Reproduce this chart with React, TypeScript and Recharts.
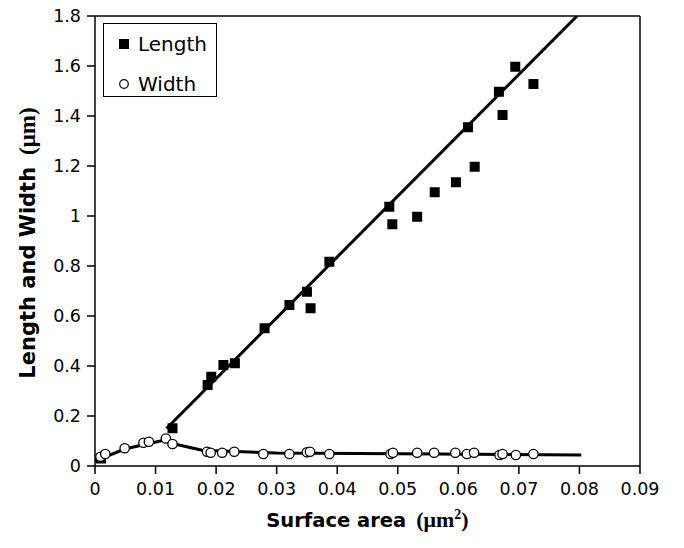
import React from 'react';
import { ScatterChart, Scatter, XAxis, YAxis, ReferenceLine, Legend } from 'recharts';

// Length measurements (filled squares)
const lengthX = [0.0010, 0.0128, 0.0186, 0.0192, 0.0212, 0.0231, 0.0280, 0.0321, 0.0350, 0.0356, 0.0387, 0.0486, 0.0491, 0.0532, 0.0561, 0.0596, 0.0627, 0.0616, 0.0673, 0.0667, 0.0694, 0.0724];
const lengthY = [0.030, 0.151, 0.324, 0.357, 0.404, 0.411, 0.551, 0.644, 0.697, 0.631, 0.817, 1.037, 0.967, 0.997, 1.095, 1.135, 1.197, 1.355, 1.404, 1.497, 1.597, 1.528];

// Width measurements (open circles)
const widthX = [0.0009, 0.0017, 0.0049, 0.0080, 0.0089, 0.0117, 0.0128, 0.0185, 0.0191, 0.0210, 0.0230, 0.0278, 0.0321, 0.0350, 0.0355, 0.0387, 0.0488, 0.0492, 0.0532, 0.0560, 0.0595, 0.0614, 0.0626, 0.0668, 0.0673, 0.0695, 0.0724];
const widthY = [0.037, 0.048, 0.071, 0.093, 0.097, 0.110, 0.088, 0.057, 0.053, 0.053, 0.057, 0.048, 0.048, 0.055, 0.057, 0.048, 0.048, 0.053, 0.053, 0.053, 0.053, 0.048, 0.053, 0.044, 0.048, 0.044, 0.048];

// Fitted trend lines
const lengthFitX = [0.0118, 0.0796];
const lengthFitY = [0.150, 1.800];
const widthFitX = [0.0, 0.0049, 0.0117, 0.0135, 0.0177, 0.0300, 0.0500, 0.0803];
const widthFitY = [0.020, 0.068, 0.105, 0.086, 0.063, 0.052, 0.049, 0.044];

const xTicks = [0, 0.01, 0.02, 0.03, 0.04, 0.05, 0.06, 0.07, 0.08, 0.09];
const yTicks = [0, 0.2, 0.4, 0.6, 0.8, 1, 1.2, 1.4, 1.6, 1.8];

const zip = (xs: number[], ys: number[]) => xs.map((x, i) => ({ x, y: ys[i] }));
const lengthData = zip(lengthX, lengthY);
const widthData = zip(widthX, widthY);
const lengthFit = zip(lengthFitX, lengthFitY);
const widthFit = zip(widthFitX, widthFitY);

const SANS = 'DejaVu Sans';

const SquareShape = (p: any) => (
  <rect x={p.cx - 5} y={p.cy - 5} width={10} height={10} fill="#000" />
);
const CircleShape = (p: any) => (
  <circle cx={p.cx} cy={p.cy} r={4.7} fill="#fff" stroke="#000" strokeWidth={1.3} />
);
const NoShape = () => <g />;

const XTitle = (props: any) => {
  const vb = props.viewBox || { x: 95, y: 466, width: 545, height: 82 };
  const cx = vb.x + vb.width / 2;
  return (
    <text x={cx} y={vb.y + 61} textAnchor="middle" fill="#000">
      <tspan fontFamily={SANS} fontWeight="bold" fontSize={19.5}>Surface area</tspan>
      <tspan dx={10} fontFamily="Liberation Serif" fontWeight="bold" fontSize={22}>(μm</tspan>
      <tspan dy={-8} fontFamily="Liberation Serif" fontWeight="bold" fontSize={14}>2</tspan>
      <tspan dy={8} fontFamily="Liberation Serif" fontWeight="bold" fontSize={22}>)</tspan>
    </text>
  );
};

const YTitle = (props: any) => {
  const vb = props.viewBox || { x: 0, y: 16, width: 95, height: 450 };
  const cy = vb.y + vb.height / 2 + 2;
  const cx = 35;
  return (
    <text x={cx} y={cy} textAnchor="middle" fill="#000" transform={`rotate(-90 ${cx} ${cy})`}>
      <tspan fontFamily={SANS} fontWeight="bold" fontSize={21}>Length and Width</tspan>
      <tspan dx={12} fontFamily="Liberation Serif" fontWeight="bold" fontSize={23}>(μm)</tspan>
    </text>
  );
};

const LegendBox = () => (
  <div
    style={{
      width: 114,
      height: 74,
      boxSizing: 'border-box',
      border: '1.5px solid #000',
      background: '#fff',
      fontFamily: SANS,
      fontSize: 20,
      color: '#000',
      position: 'relative',
    }}
  >
    <div style={{ position: 'absolute', left: 14, top: 8, display: 'flex', alignItems: 'center', height: 24 }}>
      <svg width={12} height={12} style={{ marginRight: 8 }}>
        <rect x={1} y={1} width={10} height={10} fill="#000" />
      </svg>
      <span>Length</span>
    </div>
    <div style={{ position: 'absolute', left: 14, top: 48, display: 'flex', alignItems: 'center', height: 24 }}>
      <svg width={12} height={12} style={{ marginRight: 8 }}>
        <circle cx={6} cy={6} r={4.3} fill="#fff" stroke="#000" strokeWidth={1.2} />
      </svg>
      <span>Width</span>
    </div>
  </div>
);

export default function App() {
  return (
    <div style={{ position: 'absolute', left: 0, top: 0, width: 684, height: 548, background: '#fff' }}>
      <ScatterChart width={684} height={548} margin={{ top: 16, right: 44, bottom: 0, left: 0 }}>
        <XAxis
          dataKey="x"
          type="number"
          domain={[0, 0.09]}
          ticks={xTicks}
          allowDataOverflow
          height={82}
          stroke="#000"
          strokeWidth={1.5}
          tickSize={8}
          tickMargin={9}
          tick={{ fill: '#000', fontSize: 17.5, fontFamily: SANS }}
          label={{ content: XTitle }}
        />
        <YAxis
          dataKey="y"
          type="number"
          domain={[0, 1.8]}
          ticks={yTicks}
          allowDataOverflow
          width={95}
          stroke="#000"
          strokeWidth={1.5}
          tickSize={8}
          tickMargin={6}
          tick={{ fill: '#000', fontSize: 17.5, fontFamily: SANS }}
          label={{ content: YTitle }}
        />
        <ReferenceLine y={1.8} stroke="#000" strokeWidth={1.5} />
        <ReferenceLine x={0.09} stroke="#000" strokeWidth={1.5} />
        <Scatter data={lengthFit} line={{ stroke: '#000', strokeWidth: 3 }} shape={NoShape} isAnimationActive={false} legendType="none" />
        <Scatter data={widthFit} line={{ stroke: '#000', strokeWidth: 3 }} shape={NoShape} isAnimationActive={false} legendType="none" />
        <Scatter name="Length" data={lengthData} shape={SquareShape} isAnimationActive={false} />
        <Scatter name="Width" data={widthData} shape={CircleShape} isAnimationActive={false} />
        <Legend
          layout="vertical"
          align="center"
          verticalAlign="middle"
          content={LegendBox}
          wrapperStyle={{ position: 'absolute', left: 103, top: 23, width: 114, height: 74 }}
        />
      </ScatterChart>
    </div>
  );
}
